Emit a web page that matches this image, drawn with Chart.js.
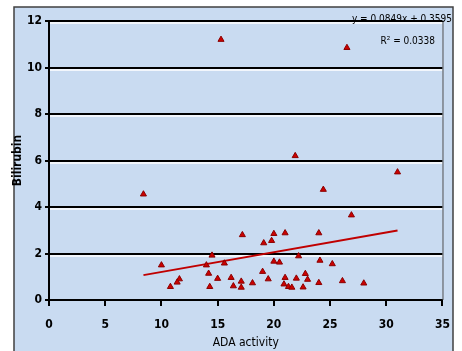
<!DOCTYPE html>
<html>
<head>
<meta charset="utf-8">
<script src="https://cdn.jsdelivr.net/npm/chart.js@4/dist/chart.umd.min.js"></script>
<style>
  html, body { margin: 0; padding: 0; background: #fff; }
  #wrap { width: 462px; height: 351px; position: relative; }
</style>
</head>
<body>
<div id="wrap"><canvas id="scatterAda" width="462" height="351"></canvas></div>
<script>
// ADA activity vs bilirubin
const adaActivity = [15.3, 26.5, 21.9, 31.0, 8.4, 24.4, 26.9, 17.2, 19.1, 19.8,
    20.0, 21.0, 24.0, 14.5, 22.2, 10.0, 14.0, 15.6, 20.0, 20.5,
    24.1, 25.2, 14.2, 19.0, 22.8, 11.6, 11.4, 10.8, 14.3, 15.0,
    16.2, 16.4, 17.1, 17.1, 18.1, 19.5, 21.0, 20.9, 21.3, 21.6,
    22.0, 23.0, 22.6, 24.0, 26.1, 28.0];
const bilirubin = [11.2, 10.85, 6.2, 5.5, 4.55, 4.75, 3.65, 2.8, 2.45, 2.55,
    2.85, 2.88, 2.88, 1.92, 1.89, 1.5, 1.5, 1.58, 1.66, 1.62,
    1.7, 1.55, 1.14, 1.22, 1.13, 0.9, 0.76, 0.57, 0.57, 0.92,
    0.96, 0.6, 0.8, 0.54, 0.73, 0.9, 0.96, 0.68, 0.57, 0.54,
    0.93, 0.88, 0.55, 0.74, 0.82, 0.72];
const trendX = [8.4, 31.0];
const trendY = [1.07, 2.99];
const xTicks = [0, 5, 10, 15, 20, 25, 30, 35];
const yTicks = [0, 2, 4, 6, 8, 10, 12];
const equationText = 'y = 0.0849x + 0.3595';
const rSquaredText = 'R² = 0.0338';

const narrow = "'Liberation Sans Narrow', 'DejaVu Sans Condensed', 'Liberation Sans', sans-serif";

document.addEventListener('DOMContentLoaded', function() {
    let ctx = document.getElementById('scatterAda').getContext('2d');

    // frame + blue background behind everything
    let backdrop = {
        id: 'backdrop',
        beforeDraw(chart) {
            let c = chart.ctx;
            c.save();
            c.fillStyle = '#ffffff';
            c.fillRect(0, 0, chart.width, chart.height);
            c.fillStyle = '#c9dbf1';
            c.fillRect(14, 7, 439, 360);
            c.strokeStyle = '#404040';
            c.lineWidth = 1.5;
            c.strokeRect(14, 7, 439, 360);
            c.restore();
        },
        beforeDatasetsDraw(chart) {
            // white highlight under each gridline and right border of plot
            let c = chart.ctx, a = chart.chartArea, y = chart.scales.y;
            c.save();
            c.strokeStyle = '#ffffff';
            c.lineWidth = 1.5;
            yTicks.forEach(function(t) {
                if (t === 0) return;
                let py = Math.round(y.getPixelForValue(t)) + 2;
                c.beginPath();
                c.moveTo(a.left + 1, py);
                c.lineTo(a.right, py);
                c.stroke();
            });
            c.strokeStyle = '#505050';
            c.lineWidth = 1;
            c.beginPath();
            c.moveTo(a.right + 0.5, a.top);
            c.lineTo(a.right + 0.5, a.bottom);
            c.stroke();
            c.restore();
        },
        afterDraw(chart) {
            let c = chart.ctx;
            c.save();
            c.fillStyle = '#000';
            c.font = '10px ' + narrow;
            c.textAlign = 'right';
            c.textBaseline = 'middle';
            c.fillText(equationText, 452, 19);
            c.fillText(rSquaredText, 435, 41);
            c.restore();
        }
    };

    let data = {
        datasets: [{
            type: 'scatter',
            label: 'Bilirubin',
            data: adaActivity.map(function(x, i) { return { x: x, y: bilirubin[i] }; }),
            pointStyle: 'triangle',
            radius: 3.5,
            backgroundColor: '#cc0000',
            borderColor: '#8a0000',
            borderWidth: 1
        }, {
            type: 'line',
            label: 'Linear',
            data: trendX.map(function(x, i) { return { x: x, y: trendY[i] }; }),
            borderColor: '#c00000',
            borderWidth: 2,
            pointRadius: 0,
            fill: false
        }]
    };

    let chart = new Chart(ctx, {
        type: 'scatter',
        data: data,
        plugins: [backdrop],
        options: {
            responsive: false,
            animation: false,
            layout: { padding: { left: 8, right: 19, top: 21, bottom: 0 } },
            plugins: {
                legend: { display: false },
                tooltip: { enabled: false }
            },
            scales: {
                x: {
                    type: 'linear',
                    min: 0, max: 35,
                    afterBuildTicks(scale) { scale.ticks = xTicks.map(function(v) { return { value: v }; }); },
                    afterFit(scale) { scale.height = 51; },
                    grid: { drawOnChartArea: false, drawTicks: true, tickLength: 6, color: '#000', lineWidth: 2 },
                    border: { display: true, color: '#000', width: 2 },
                    ticks: {
                        padding: 12,
                        color: '#000',
                        font: { family: narrow, size: 12, weight: 'bold' }
                    },
                    title: {
                        display: true,
                        text: 'ADA activity',
                        color: '#000',
                        padding: { top: 0, bottom: 1 },
                        font: { family: narrow, size: 12 }
                    }
                },
                y: {
                    type: 'linear',
                    min: 0, max: 12,
                    afterBuildTicks(scale) { scale.ticks = yTicks.map(function(v) { return { value: v }; }); },
                    afterFit(scale) { scale.width = 41; },
                    grid: { drawTicks: true, tickLength: 4, color: '#000', lineWidth: 2 },
                    border: { display: true, color: '#000', width: 2 },
                    ticks: {
                        padding: 3,
                        color: '#000',
                        font: { family: narrow, size: 12, weight: 'bold' }
                    },
                    title: {
                        display: true,
                        text: 'Bilirubin',
                        color: '#000',
                        padding: { top: 3, bottom: 0 },
                        font: { family: narrow, size: 12, weight: 'bold' }
                    }
                }
            }
        }
    });
});
</script>
</body>
</html>
